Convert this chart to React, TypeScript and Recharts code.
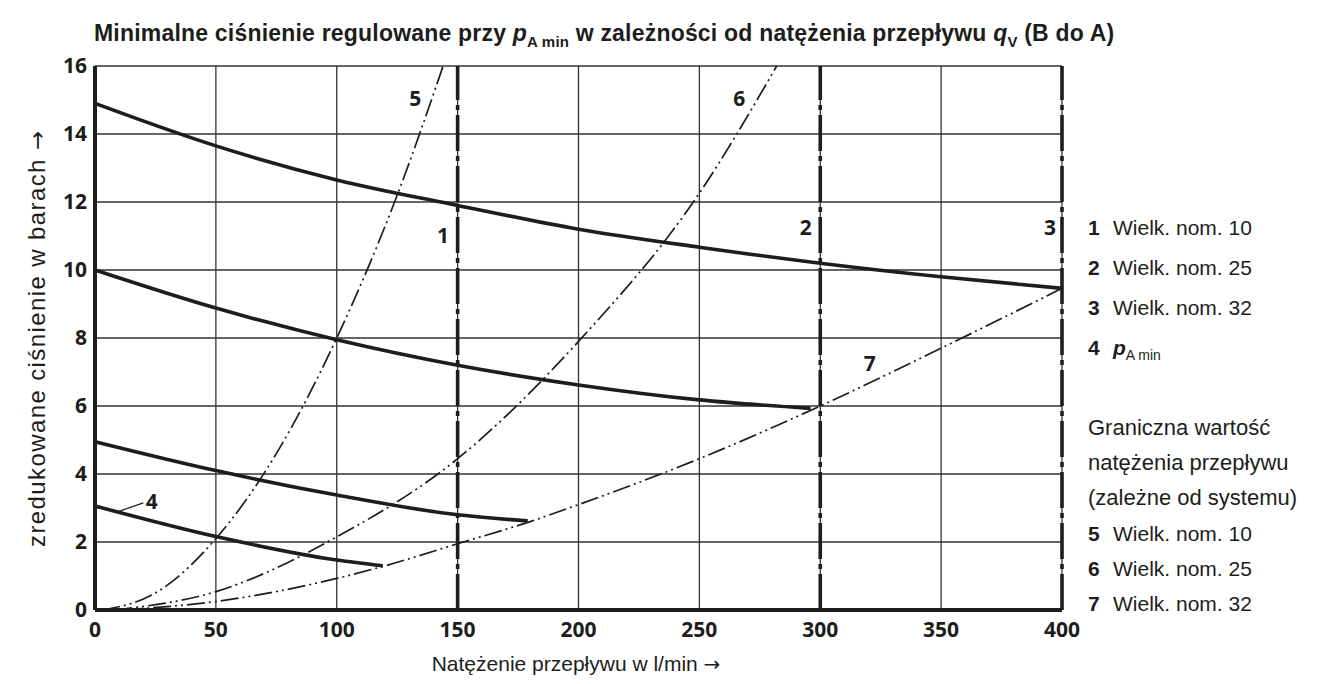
import {
  CartesianGrid,
  ComposedChart,
  Line,
  ReferenceDot,
  ReferenceLine,
  XAxis,
  YAxis,
} from "recharts";

// axis ticks
const X_TICKS = [0, 50, 100, 150, 200, 250, 300, 350, 400];
const Y_TICKS = [0, 2, 4, 6, 8, 10, 12, 14, 16];

// solid curves (regulated pressure), q in l/min, p in bar
const pressureTop = [
  { x: 0, y: 14.9 },
  { x: 50, y: 13.65 },
  { x: 100, y: 12.65 },
  { x: 150, y: 11.9 },
  { x: 200, y: 11.2 },
  { x: 250, y: 10.67 },
  { x: 300, y: 10.2 },
  { x: 350, y: 9.8 },
  { x: 400, y: 9.46 },
];
const pressureMid = [
  { x: 0, y: 10 },
  { x: 50, y: 8.88 },
  { x: 100, y: 7.95 },
  { x: 150, y: 7.2 },
  { x: 200, y: 6.62 },
  { x: 250, y: 6.18 },
  { x: 296, y: 5.93 },
];
const pressureLow = [
  { x: 0, y: 4.95 },
  { x: 50, y: 4.1 },
  { x: 100, y: 3.38 },
  { x: 150, y: 2.8 },
  { x: 179, y: 2.62 },
];
const pressureMin = [
  { x: 0, y: 3.06 },
  { x: 50, y: 2.16 },
  { x: 100, y: 1.47 },
  { x: 119, y: 1.3 },
];

// limit curves (system dependent flow limit)
const limitNG10 = [
  { x: 3, y: 0 },
  { x: 25, y: 0.5 },
  { x: 50, y: 2.1 },
  { x: 75, y: 4.6 },
  { x: 100, y: 8.0 },
  { x: 125, y: 12.2 },
  { x: 144, y: 16 },
];
const limitNG25 = [
  { x: 8, y: 0 },
  { x: 50, y: 0.54 },
  { x: 100, y: 2.15 },
  { x: 150, y: 4.45 },
  { x: 200, y: 7.9 },
  { x: 250, y: 12.26 },
  { x: 282, y: 16 },
];
const limitNG32 = [
  { x: 10, y: 0 },
  { x: 50, y: 0.25 },
  { x: 100, y: 0.93 },
  { x: 120, y: 1.3 },
  { x: 150, y: 1.95 },
  { x: 180, y: 2.6 },
  { x: 200, y: 3.1 },
  { x: 250, y: 4.45 },
  { x: 300, y: 6.0 },
  { x: 350, y: 7.7 },
  { x: 400, y: 9.46 },
];

// max flow per nominal size
const MAX_FLOW = [
  { id: "1", x: 150 },
  { id: "2", x: 300 },
  { id: "3", x: 400 },
];

const INK = "#1d1d1b";
const NUM_FONT = "'Open Sans', sans-serif";
const TXT_FONT = "'Liberation Sans', Arial, sans-serif";

const solid = { stroke: INK, strokeWidth: 3.6, dot: false, type: "monotone" as const };
const dashed = {
  stroke: INK,
  strokeWidth: 1.7,
  dot: false,
  type: "monotone" as const,
  strokeDasharray: "18 4 2 4 2 4",
};

const numLabel = (value: string) => ({
  value,
  position: "center" as const,
  fill: INK,
  fontSize: 21,
  fontWeight: 700,
  fontFamily: NUM_FONT,
});

const legendTop = [
  { n: "1", text: "Wielk. nom. 10" },
  { n: "2", text: "Wielk. nom. 25" },
  { n: "3", text: "Wielk. nom. 32" },
];
const legendBottom = [
  { n: "5", text: "Wielk. nom. 10" },
  { n: "6", text: "Wielk. nom. 25" },
  { n: "7", text: "Wielk. nom. 32" },
];

const Arrow = () => (
  <span style={{ fontFamily: "'DejaVu Sans', sans-serif", fontSize: "0.95em", letterSpacing: 0 }}>
    {"\u2192"}
  </span>
);

export default function App() {
  const rowStyle = (top: number): React.CSSProperties => ({
    position: "absolute",
    left: 1088,
    top,
    fontFamily: TXT_FONT,
    fontSize: 21,
    color: INK,
    whiteSpace: "nowrap",
    lineHeight: "24px",
  });
  const numStyle: React.CSSProperties = { fontWeight: 700, display: "inline-block", width: 25 };

  return (
    <div style={{ position: "absolute", left: 0, top: 0, width: 1334, height: 684, background: "#fff" }}>
      <div
        style={{
          position: "absolute",
          left: 94,
          top: 19,
          fontFamily: TXT_FONT,
          fontWeight: 700,
          fontSize: 23,
          letterSpacing: 0.2,
          color: INK,
          whiteSpace: "nowrap",
          lineHeight: "28px",
        }}
      >
        Minimalne ciśnienie regulowane przy <i>p</i>
        <sub style={{ fontSize: 15, lineHeight: 0 }}>A min</sub> w zależności od natężenia przepływu{" "}
        <i>q</i>
        <sub style={{ fontSize: 15, lineHeight: 0 }}>V</sub> (B do A)
      </div>

      <ComposedChart
        width={1334}
        height={684}
        margin={{ top: 66, right: 272, bottom: 44, left: 65 }}
      >
        <CartesianGrid stroke="#333" strokeWidth={1.3} />
        <XAxis
          type="number"
          dataKey="x"
          domain={[0, 400]}
          ticks={X_TICKS}
          height={30}
          axisLine={{ stroke: INK, strokeWidth: 4 }}
          tickLine={false}
          tickMargin={6}
          tick={{ fill: INK, fontSize: 21, fontWeight: 700, fontFamily: NUM_FONT }}
        />
        <YAxis
          type="number"
          domain={[0, 16]}
          ticks={Y_TICKS}
          width={30}
          axisLine={{ stroke: INK, strokeWidth: 4 }}
          tickLine={false}
          tickMargin={2}
          tick={{ fill: INK, fontSize: 21, fontWeight: 700, fontFamily: NUM_FONT }}
        />

        {MAX_FLOW.map((m) => (
          <ReferenceLine
            key={m.id}
            x={m.x}
            stroke={INK}
            strokeWidth={3.6}
            strokeDasharray="36 5 5 5"
          />
        ))}

        <Line data={pressureTop} dataKey="y" {...solid} isAnimationActive={false} />
        <Line data={pressureMid} dataKey="y" {...solid} isAnimationActive={false} />
        <Line data={pressureLow} dataKey="y" {...solid} isAnimationActive={false} />
        <Line data={pressureMin} dataKey="y" {...solid} isAnimationActive={false} />

        <Line data={limitNG10} dataKey="y" {...dashed} isAnimationActive={false} />
        <Line data={limitNG25} dataKey="y" {...dashed} isAnimationActive={false} />
        <Line data={limitNG32} dataKey="y" {...dashed} isAnimationActive={false} />

        {/* leader line for curve 4 */}
        <ReferenceLine
          segment={[
            { x: 9, y: 2.88 },
            { x: 20, y: 3.15 },
          ]}
          stroke={INK}
          strokeWidth={1.2}
        />

        <ReferenceDot x={144} y={11} r={0} stroke="none" label={numLabel("1")} />
        <ReferenceDot x={294} y={11.25} r={0} stroke="none" label={numLabel("2")} />
        <ReferenceDot x={395} y={11.25} r={0} stroke="none" label={numLabel("3")} />
        <ReferenceDot x={23.5} y={3.2} r={0} stroke="none" label={numLabel("4")} />
        <ReferenceDot x={132.5} y={15.05} r={0} stroke="none" label={numLabel("5")} />
        <ReferenceDot x={266.5} y={15.05} r={0} stroke="none" label={numLabel("6")} />
        <ReferenceDot x={320.5} y={7.25} r={0} stroke="none" label={numLabel("7")} />
      </ComposedChart>

      <div
        style={{
          position: "absolute",
          left: 37,
          top: 339,
          transform: "translate(-50%, -50%) rotate(-90deg)",
          fontFamily: TXT_FONT,
          fontSize: 24,
          letterSpacing: 1.4,
          color: INK,
          whiteSpace: "nowrap",
        }}
      >
        zredukowane ciśnienie w barach <Arrow />
      </div>

      <div
        style={{
          position: "absolute",
          left: 576,
          top: 664,
          transform: "translate(-50%, -50%)",
          fontFamily: TXT_FONT,
          fontSize: 21,
          color: INK,
          whiteSpace: "nowrap",
        }}
      >
        Natężenie przepływu w l/min <Arrow />
      </div>

      {legendTop.map((r, i) => (
        <div key={r.n} style={rowStyle(216 + i * 40)}>
          <span style={numStyle}>{r.n}</span>
          {r.text}
        </div>
      ))}
      <div style={rowStyle(336)}>
        <span style={numStyle}>4</span>
        <b>
          <i>p</i>
        </b>
        <sub style={{ fontSize: 14, lineHeight: 0 }}>A min</sub>
      </div>
      <div style={{ ...rowStyle(410), fontSize: 22, lineHeight: "35px" }}>
        Graniczna wartość
        <br />
        natężenia przepływu
        <br />
        (zależne od systemu)
      </div>
      {legendBottom.map((r, i) => (
        <div key={r.n} style={rowStyle(522 + i * 35)}>
          <span style={numStyle}>{r.n}</span>
          {r.text}
        </div>
      ))}
    </div>
  );
}
